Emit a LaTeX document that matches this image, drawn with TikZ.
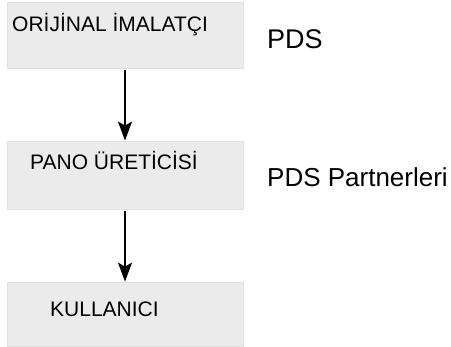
\documentclass[tikz,border=0pt]{standalone}
\usepackage{fontspec}
\setmainfont{Liberation Sans}
\usetikzlibrary{arrows.meta}
\definecolor{boxfill}{RGB}{235,235,235}
\definecolor{boxedge}{RGB}{225,225,225}
\tikzset{
  stagebox/.style={draw=boxedge, line width=0.8pt, fill=boxfill, rectangle, minimum width=236pt, minimum height=66pt, inner sep=0pt},
  stagetext/.style={anchor=base west, inner sep=0pt, font=\fontsize{21}{25}\selectfont},
  roletext/.style={anchor=base west, inner sep=0pt},
  flowarrow/.style={line width=1.8pt, -{Stealth[length=19pt,width=14pt,inset=4pt]}, shorten <=2pt}
}
\begin{document}
\begin{tikzpicture}[x=1pt,y=-1pt]
\useasboundingbox (0,0) rectangle (451,347);
\node[stagebox] (b1) at (125,35) {};
\node[stagebox, minimum height=68pt] (b2) at (125,175) {};
\node[stagebox, minimum height=64pt] (b3) at (125,314) {};
\node[stagetext] (t1) at (12,32) {ORİJİNAL İMALATÇI};
\node[stagetext] (t2) at (30,170) {PANO ÜRETİCİSİ};
\node[stagetext] (t3) at (50,317) {KULLANICI};
\node[roletext, font=\fontsize{27}{32}\selectfont] (r1) at (267,49) {PDS};
\node[roletext, font=\fontsize{26}{31}\selectfont] (r2) at (267,187) {PDS Partnerleri};
\draw[flowarrow] (b1.south) -- (b2.north);
\draw[flowarrow] (b2.south) -- (b3.north);
\end{tikzpicture}
\end{document}
